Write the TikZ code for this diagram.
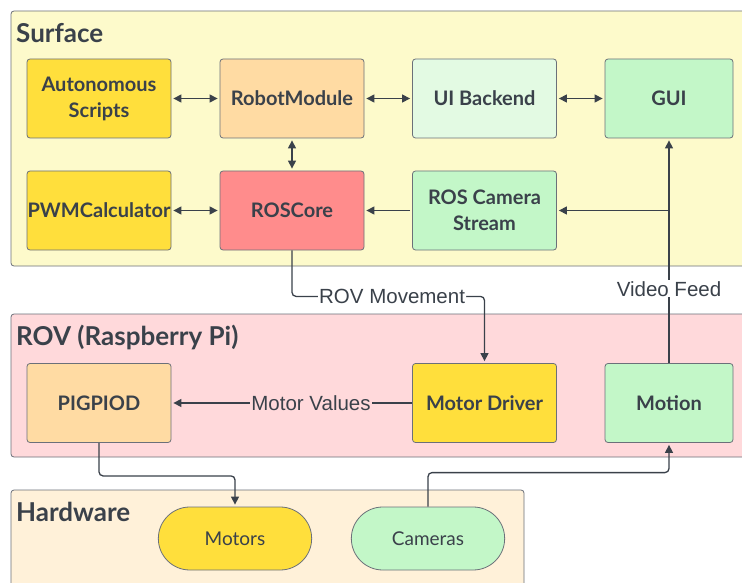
\documentclass[tikz,border=0pt]{standalone}
\usepackage{fontspec}
\usepackage{tikz}
\usetikzlibrary{calc, arrows.meta, shapes.misc}
\newfontfamily\boxfont{Lato}
\newfontfamily\lblfont{Liberation Sans}
\definecolor{ink}{HTML}{3A414A}
\definecolor{rim}{HTML}{6B7079}
\definecolor{surfacebg}{HTML}{FDFACB}
\definecolor{rovbg}{HTML}{FFD9DB}
\definecolor{hardwarebg}{HTML}{FFF1D9}
\definecolor{yellowbox}{HTML}{FFDF3C}
\definecolor{orangebox}{HTML}{FFDBA3}
\definecolor{redbox}{HTML}{FF8C8C}
\definecolor{palegreen}{HTML}{E3FAE3}
\definecolor{greenbox}{HTML}{C3F7C8}

\begin{document}
\begin{tikzpicture}[x=1pt, y=-1pt,
	group/.style={draw=rim, line width=0.8pt, rounded corners=3pt},
	grouptitle/.style={anchor=west, inner sep=0pt, text=ink, font=\boxfont\bfseries\fontsize{26}{28}\selectfont},
	block/.style={draw=rim, line width=0.8pt, rounded corners=3pt, minimum width=144pt, minimum height=79pt,
		inner xsep=0pt, align=center, text=ink, font=\boxfont\bfseries\fontsize{20}{26}\selectfont},
	pill/.style={draw=rim, line width=0.8pt, rounded rectangle, minimum width=160pt, minimum height=63pt,
		text=ink, font=\boxfont\fontsize{19}{22}\selectfont},
	link/.style={draw=ink, line width=1.3pt, shorten <=2pt, shorten >=2pt},
	tip/.style={-{Triangle[length=8pt,width=8pt]}},
	tips/.style={{Triangle[length=8pt,width=8pt]}-{Triangle[length=8pt,width=8pt]}},
	lbl/.style={fill=white, inner sep=1pt, text=ink, font=\lblfont\fontsize{20.5}{22}\selectfont}]

	\path[use as bounding box, clip] (0,0) rectangle (742,583);
	\fill[white] (0,0) rectangle (742,583);

	% layers
	\draw[group, fill=surfacebg] (11,11) rectangle (760,266);
	\draw[group, fill=rovbg] (11,314) rectangle (760,457);
	\draw[group, fill=hardwarebg] (11,490) rectangle (524,600);
	\node[grouptitle] (surface) at (16,33) {Surface};
	\node[grouptitle] (rov) at (16,337) {ROV (Raspberry Pi)};
	\node[grouptitle] (hardware) at (16,512) {Hardware};

	% surface
	\node[block, fill=yellowbox] (auto) at (99,98.5) {Autonomous\\Scripts};
	\node[block, fill=orangebox] (robot) at (292,98.5) {RobotModule};
	\node[block, fill=palegreen] (backend) at (484.5,98.5) {UI Backend};
	\node[block, fill=greenbox, minimum width=128pt] (gui) at (669,98.5) {GUI};
	\node[block, fill=yellowbox] (pwm) at (99,210.5) {PWMCalculator};
	\node[block, fill=redbox] (roscore) at (292,210.5) {ROSCore};
	\node[block, fill=greenbox] (camstream) at (484.5,210.5) {ROS Camera\\Stream};

	% rov
	\node[block, fill=orangebox] (pigpiod) at (99,403) {PIGPIOD};
	\node[block, fill=yellowbox] (driver) at (484.5,403) {Motor Driver};
	\node[block, fill=greenbox, minimum width=128pt] (motion) at (669,403) {Motion};

	% hardware
	\node[pill, fill=yellowbox] (motors) at (235,538.5) {Motors};
	\node[pill, fill=greenbox] (cameras) at (428,538.5) {Cameras};

	\draw[link, tips] (auto) -- (robot);
	\draw[link, tips] (robot) -- (backend);
	\draw[link, tips] (backend) -- (gui);
	\draw[link, tips] (robot) -- (roscore);
	\draw[link, tips] (pwm) -- (roscore);
	\draw[link, tip] (camstream) -- (roscore);

	\coordinate (feedjoin) at (gui.south |- camstream.east);
	\draw[link, tip, shorten <=0pt] (motion.north) -- node[lbl, pos=0.33] (feedlbl) {Video Feed} (gui.south);
	\draw[link, tip, shorten <=0pt] (feedjoin) -- (camstream.east);

	\draw[link, tip, rounded corners=4pt, shorten <=0pt] (roscore.south) -- ++(0,46)
		-| node[lbl, pos=0.26] (movelbl) {ROV Movement} (driver.north);
	\draw[link, tip, shorten <=0pt] (driver.west) -- node[lbl, fill=rovbg, pos=0.42] (valuelbl) {Motor Values} (pigpiod.east);

	\draw[link, tip, rounded corners=4pt, shorten <=0pt] (pigpiod.south) -- ++(0,33) -| (motors.north);
	\draw[link, tip, rounded corners=4pt, shorten <=0pt] (cameras.north) -- ++(0,-34) -| (motion.south);
\end{tikzpicture}
\end{document}
